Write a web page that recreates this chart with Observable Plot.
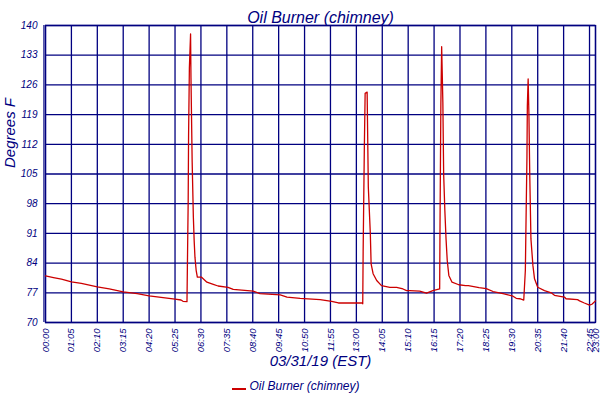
<!DOCTYPE html>
<html>
<head>
<meta charset="utf-8">
<script src="https://cdn.jsdelivr.net/npm/d3@7"></script>
<script src="https://cdn.jsdelivr.net/npm/@observablehq/plot@0.6"></script>
<style>
  html, body { margin: 0; padding: 0; background: #fff; }
</style>
</head>
<body>
<div id="chart"></div>
<script>
const titleText = "Oil Burner (chimney)";
const xAxisTitle = "03/31/19 (EST)";
const yAxisTitle = "Degrees F";
const seriesName = "Oil Burner (chimney)";

// minutes after midnight
const minutes = [
  0, 20, 40, 65, 90, 110, 130, 160, 195, 230, 260, 290, 325, 340, 345, 355,
  356, 358, 359, 361, 364, 365, 368, 371, 373, 375, 378, 381, 391, 405, 421, 433, 458, 471, 521, 538, 589, 606, 639, 689, 718, 735, 795,
  796, 797, 800, 802, 807, 810, 815, 817, 822, 831, 843, 864, 881, 897, 906, 914, 939, 956, 972, 989,
  990, 992, 994, 996, 997, 999, 1002, 1005, 1008, 1012, 1020, 1037, 1054, 1061, 1088, 1106, 1123, 1148, 1173, 1181, 1190, 1200,
  1204, 1206, 1208, 1209, 1211, 1213, 1215, 1218, 1223, 1227, 1235, 1252, 1269, 1277, 1302, 1306, 1335, 1340, 1352, 1365, 1371, 1380
];
const degF = [
  81.0, 80.6, 80.2, 79.6, 79.2, 78.8, 78.4, 77.9, 77.2, 76.8, 76.3, 75.9, 75.5, 75.3, 75.0, 74.9,
  83.0, 98.5, 114.2, 130.0, 138.0, 127.8, 107.8, 94.8, 89.3, 85.4, 82.3, 80.7, 80.7, 79.5, 79.0, 78.6, 78.3, 77.8, 77.4, 76.8, 76.5, 76.0, 75.7, 75.4, 75.0, 74.6, 74.6,
  74.4, 86.7, 111.3, 124.0, 124.3, 101.9, 91.0, 83.8, 81.5, 79.9, 78.7, 78.3, 78.3, 77.9, 77.5, 77.5, 77.4, 76.9, 77.5, 77.9,
  94.8, 121.5, 135.0, 126.3, 121.9, 105.0, 96.4, 89.7, 84.6, 81.1, 79.5, 78.9, 78.7, 78.7, 78.2, 78.0, 77.3, 76.8, 76.2, 75.7, 75.6, 75.3,
  82.3, 96.0, 109.0, 121.1, 127.4, 118.8, 105.0, 89.7, 83.4, 80.3, 78.3, 77.5, 77.0, 76.4, 76.0, 75.6, 75.4, 75.1, 74.6, 74.1, 74.3, 75.1
];

const xTicks = [0, 65, 130, 195, 260, 325, 390, 455, 520, 585, 650, 715, 780, 845, 910, 975, 1040, 1105, 1170, 1235, 1300, 1365, 1380];
const xTickLabels = ["00:00","01:05","02:10","03:15","04:20","05:25","06:30","07:35","08:40","09:45","10:50","11:55","13:00","14:05","15:10","16:15","17:20","18:25","19:30","20:35","21:40","22:45","23:00"];
const yTicks = [70, 77, 84, 91, 98, 105, 112, 119, 126, 133, 140];

const navy = "#000080";
const red = "#cc0000";
const font = "'Liberation Sans', Arial, sans-serif";

const data = minutes.map((t, i) => ({t, v: degF[i]}));
const labelOf = new Map(xTicks.map((t, i) => [t, xTickLabels[i]]));

const legendSwatch = (index, scales, values, dims) => {
  const g = document.createElementNS("http://www.w3.org/2000/svg", "g");
  const cx = dims.marginLeft + (dims.width - dims.marginLeft - dims.marginRight) / 2;
  const y = dims.height - dims.marginBottom + 67;
  const line = document.createElementNS("http://www.w3.org/2000/svg", "line");
  line.setAttribute("x1", cx - 88);
  line.setAttribute("x2", cx - 74);
  line.setAttribute("y1", y);
  line.setAttribute("y2", y);
  line.setAttribute("stroke", red);
  line.setAttribute("stroke-width", 2);
  g.appendChild(line);
  return g;
};

const chart = Plot.plot({
  width: 600,
  height: 400,
  marginTop: 25,
  marginBottom: 78,
  marginLeft: 45,
  marginRight: 5,
  style: {fontFamily: font, fontSize: "10px", fontStyle: "italic", color: navy, background: "#fff"},
  x: {domain: [0, 1380]},
  y: {domain: [70, 140]},
  marks: [
    Plot.gridX({ticks: xTicks, stroke: navy, strokeOpacity: 1, strokeWidth: 1.3}),
    Plot.gridY({ticks: yTicks, stroke: navy, strokeOpacity: 1, strokeWidth: 1.3}),
    Plot.frame({stroke: navy, strokeWidth: 1.3}),
    Plot.ruleX([0], {dx: -1.6, stroke: navy, strokeWidth: 1.1}),
    Plot.axisY({ticks: yTicks, tickSize: 0, tickPadding: 8, label: null, fill: navy}),
    Plot.axisX({ticks: xTicks, tickFormat: d => labelOf.get(d), tickRotate: -90, tickSize: 0, tickPadding: 6, label: null, fill: navy, fontSize: 9.5}),
    Plot.line(data, {x: "t", y: "v", stroke: red, strokeWidth: 1.3}),
    Plot.text([titleText], {frameAnchor: "top", dy: -14, fontSize: 16, fill: navy, fontStyle: "italic"}),
    Plot.text([yAxisTitle], {frameAnchor: "left", dx: -35, dy: -6, rotate: -90, fontSize: 15, fill: navy, fontStyle: "italic"}),
    Plot.text([xAxisTitle], {frameAnchor: "bottom", dy: 43, fontSize: 15, fill: navy, fontStyle: "italic"}),
    Plot.text([seriesName], {frameAnchor: "bottom", dx: -71, dy: 67, textAnchor: "start", fontSize: 12, fill: navy, fontStyle: "italic"}),
    legendSwatch
  ]
});
document.getElementById("chart").appendChild(chart);
</script>
</body>
</html>
